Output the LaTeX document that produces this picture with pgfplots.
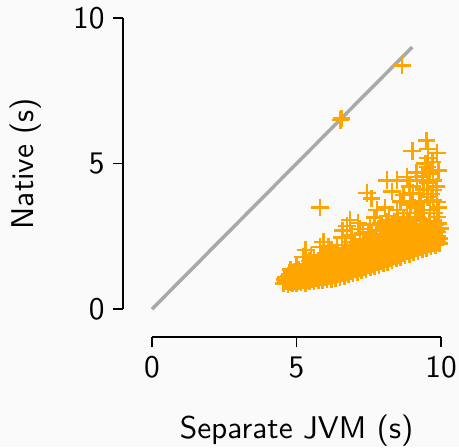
\documentclass[border=0pt]{standalone}
\usepackage{pgfplots}
\pgfplotsset{compat=1.18}
\usepackage{fontspec}
\setsansfont{lmsans10-regular}[Extension=.otf]
\renewcommand{\familydefault}{\sfdefault}
\usetikzlibrary{backgrounds}
\definecolor{bgc}{RGB}{250,250,250}
\definecolor{mk}{RGB}{255,165,0}
\pgfplotstableread{
x y
4.55 0.88
4.58 1.02
4.70 0.86
4.68 1.00
4.72 1.14
4.85 0.88
4.83 1.05
4.87 1.20
5.00 0.90
5.02 1.08
4.98 1.28
5.15 0.92
5.13 1.10
5.17 1.30
5.30 0.90
5.28 1.12
5.32 1.30
5.30 1.42
5.45 0.95
5.47 1.15
5.43 1.35
5.60 0.97
5.62 1.16
5.58 1.36
5.61 1.52
5.75 0.98
5.73 1.20
5.77 1.40
5.75 1.58
5.90 1.00
5.92 1.20
5.88 1.42
5.91 1.62
6.05 1.01
6.03 1.22
6.07 1.45
6.05 1.68
6.20 1.04
6.22 1.25
6.18 1.50
6.21 1.72
6.35 1.06
6.33 1.28
6.37 1.52
6.35 1.78
6.50 1.10
6.52 1.32
6.48 1.56
6.51 1.82
6.65 1.14
6.63 1.36
6.67 1.60
6.65 1.86
6.80 1.18
6.82 1.40
6.78 1.65
6.81 1.92
6.95 1.23
6.93 1.45
6.97 1.70
6.95 1.96
7.10 1.28
7.12 1.50
7.08 1.75
7.11 2.00
7.25 1.33
7.23 1.55
7.27 1.80
7.25 2.06
7.40 1.37
7.42 1.60
7.38 1.85
7.41 2.12
7.55 1.42
7.53 1.65
7.57 1.90
7.55 2.18
7.70 1.47
7.72 1.70
7.68 1.95
7.71 2.24
7.85 1.52
7.83 1.76
7.87 2.00
7.85 2.30
8.00 1.57
8.02 1.80
7.98 2.05
8.01 2.35
8.15 1.62
8.13 1.85
8.17 2.10
8.15 2.40
8.30 1.68
8.32 1.90
8.28 2.15
8.31 2.44
8.45 1.73
8.43 1.95
8.47 2.20
8.45 2.47
8.60 1.79
8.62 2.00
8.58 2.25
8.61 2.50
8.75 1.84
8.73 2.05
8.77 2.30
8.75 2.53
8.90 1.89
8.92 2.10
8.88 2.35
8.91 2.56
9.05 1.94
9.03 2.15
9.07 2.38
9.05 2.60
9.20 1.99
9.22 2.20
9.18 2.42
9.21 2.62
9.35 2.05
9.33 2.25
9.37 2.45
9.35 2.66
9.50 2.10
9.52 2.30
9.48 2.50
9.51 2.70
9.65 2.15
9.63 2.35
9.67 2.55
9.80 2.20
9.82 2.40
9.78 2.58
9.95 2.25
9.93 2.42
4.62 0.95
4.62 1.08
4.77 0.92
4.77 1.08
4.77 1.18
4.92 0.95
4.92 1.15
4.92 1.30
5.07 0.97
5.07 1.18
5.07 1.36
5.22 0.98
5.22 1.20
5.22 1.38
5.37 1.00
5.37 1.22
5.37 1.42
5.52 1.02
5.52 1.25
5.52 1.45
5.67 1.05
5.67 1.28
5.67 1.50
5.82 1.08
5.82 1.30
5.82 1.52
5.97 1.10
5.97 1.32
5.97 1.56
5.97 1.75
6.12 1.12
6.12 1.35
6.12 1.60
6.12 1.80
6.27 1.15
6.27 1.40
6.27 1.65
6.27 1.85
6.42 1.18
6.42 1.44
6.42 1.68
6.42 1.90
6.57 1.22
6.57 1.48
6.57 1.72
6.57 1.95
6.72 1.26
6.72 1.50
6.72 1.76
6.72 2.00
6.87 1.30
6.87 1.55
6.87 1.80
6.87 2.05
7.02 1.35
7.02 1.60
7.02 1.85
7.02 2.10
7.17 1.40
7.17 1.65
7.17 1.90
7.17 2.15
7.32 1.45
7.32 1.70
7.32 1.95
7.32 2.20
7.47 1.50
7.47 1.75
7.47 2.02
7.47 2.28
7.62 1.55
7.62 1.80
7.62 2.08
7.62 2.33
7.77 1.60
7.77 1.85
7.77 2.12
7.77 2.38
7.92 1.65
7.92 1.90
7.92 2.18
7.92 2.44
8.07 1.70
8.07 1.95
8.07 2.22
8.07 2.50
8.22 1.75
8.22 2.00
8.22 2.27
8.22 2.55
8.37 1.80
8.37 2.05
8.37 2.32
8.37 2.58
8.52 1.86
8.52 2.10
8.52 2.38
8.52 2.62
8.67 1.92
8.67 2.15
8.67 2.42
8.67 2.65
8.82 1.97
8.82 2.20
8.82 2.45
8.82 2.68
8.97 2.02
8.97 2.25
8.97 2.50
8.97 2.72
9.12 2.08
9.12 2.30
9.12 2.52
9.12 2.75
9.27 2.13
9.27 2.35
9.27 2.55
9.27 2.78
9.42 2.18
9.42 2.40
9.42 2.60
9.42 2.80
9.57 2.22
9.57 2.45
9.57 2.62
9.72 2.27
9.72 2.48
9.72 2.65
9.87 2.30
9.87 2.50
9.87 2.65
5.81 3.50
6.52 6.50
6.56 6.54
8.65 8.38
9.50 5.80
9.00 5.43
9.86 5.36
9.55 5.19
8.13 4.43
7.44 3.99
7.60 3.80
8.06 3.50
7.78 3.40
8.48 4.43
8.82 4.54
9.17 4.43
9.52 4.33
8.69 3.92
9.03 3.99
9.52 3.85
9.86 3.68
8.48 3.40
8.82 3.30
9.17 3.16
9.62 3.40
9.86 3.16
9.97 2.78
6.85 3.06
7.13 2.96
7.54 2.89
7.89 2.71
8.17 2.61
6.60 2.71
6.57 2.47
5.92 2.30
5.81 2.13
5.30 2.03
5.22 1.79
8.69 2.82
9.03 2.71
8.86 2.37
9.52 4.88
9.62 4.67
9.72 4.43
9.72 4.09
9.72 3.75
6.20 2.05
6.40 2.20
6.90 2.30
7.20 2.40
7.30 2.60
7.60 2.55
8.00 2.80
8.30 2.90
8.50 3.10
8.20 3.20
8.90 3.00
9.30 2.90
9.40 3.40
9.60 3.00
9.30 3.70
9.10 3.50
8.60 3.70
8.90 4.20
9.40 4.10
9.55 5.50
9.70 5.05
5.60 1.75
5.00 1.50
4.80 1.35
5.45 1.65
6.00 1.90
9.85 2.70
9.90 2.95
8.30 4.05
5.50 1.85
5.90 1.85
6.30 1.95
6.10 2.15
6.70 2.10
6.90 2.55
7.00 2.20
7.20 2.75
7.40 2.35
7.50 2.65
6.75 2.85
7.70 2.45
7.90 2.95
8.00 2.55
8.10 3.00
8.25 2.70
8.40 2.65
8.40 3.00
7.70 3.15
8.60 2.70
8.70 3.15
8.80 2.75
9.00 2.90
9.10 2.75
9.20 3.30
9.30 3.10
9.45 2.85
8.95 3.60
9.25 3.95
9.15 4.70
9.35 4.55
9.45 5.00
9.70 2.75
9.80 2.90
9.75 3.30
9.90 3.50
9.65 3.95
9.85 4.20
9.90 4.75
9.60 2.60
}\pts
\pgfplotstableread{
x y
0 0
9 9
}\diag
\begin{document}
\begin{tikzpicture}
\begin{axis}[
  scale only axis, width=289bp, height=291bp,
  xmin=0, xmax=10, ymin=0, ymax=10,
  clip=false,
  axis x line*=bottom, axis y line*=left,
  axis x line shift=28bp, axis y line shift=29bp,
  axis line style={line width=1.8bp, black},
  tick align=outside, major tick length=10bp,
  tick style={line width=1.8bp, black},
  xtick={0,5,10}, ytick={0,5,10},
  /pgf/number format/assume math mode=true,
  tick label style={font=\fontsize{31.5}{38}\selectfont},
  xticklabel style={yshift=-6bp},
  yticklabel style={xshift=-5bp},
  xlabel={Separate JVM (s)}, ylabel={Native (s)},
  every axis x label/.style={at={(axis description cs:0.5,-0.416)},anchor=center,font=\fontsize{31.5}{38}\selectfont},
  every axis y label/.style={at={(axis description cs:-0.436,0.5)},rotate=90,anchor=center,font=\fontsize{31.5}{38}\selectfont},
]
\addplot[only marks, mark=+, mark size=8.7bp, mark options={line width=2.7bp, draw=mk}] table[x=x,y=y] {\pts};
\addplot[no marks, line width=3.5bp, black, draw opacity=0.32] table[x=x,y=y] {\diag};
\coordinate (BL) at (axis cs:-5.26,-4.74);
\coordinate (TR) at (axis cs:10.62,10.62);
\end{axis}
\begin{pgfonlayer}{background}
\fill[bgc] (BL) rectangle (TR);
\end{pgfonlayer}
\pgfresetboundingbox
\path[use as bounding box] (BL) rectangle (TR);
\end{tikzpicture}
\end{document}
